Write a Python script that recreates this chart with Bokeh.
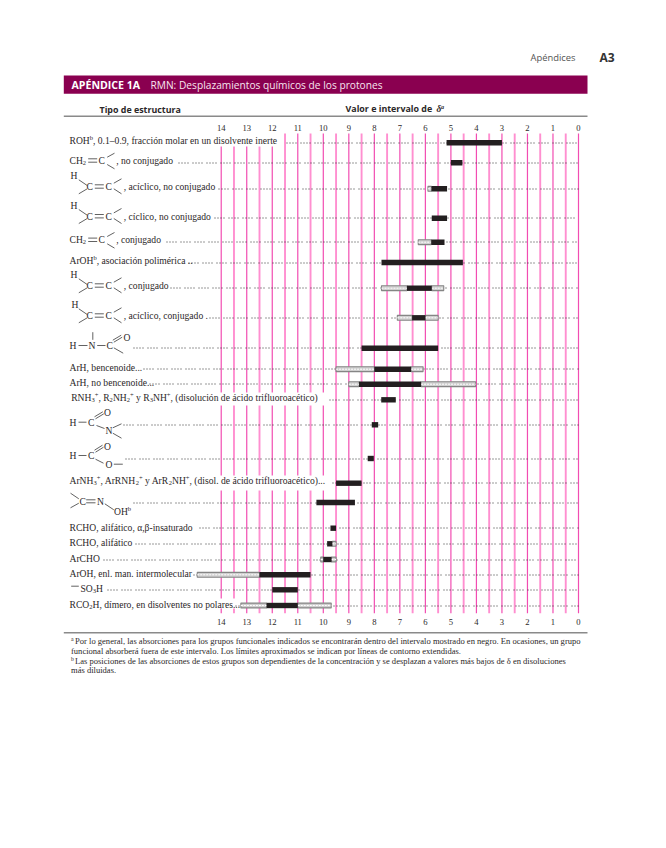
import re
from bokeh.plotting import figure
from bokeh.models import Range1d
from bokeh.core.properties import value
from bokeh.embed import file_html
from bokeh.resources import INLINE

# ---------- data: chemical shift ranges (ppm) ----------
tick_labels = [14, 13, 12, 11, 10, 9, 8, 7, 6, 5, 4, 3, 2, 1, 0]
half_ticks = [13.5, 12.5, 11.5, 10.5, 9.5, 8.5, 7.5, 6.5, 5.5, 4.5, 3.5, 2.5, 1.5, 0.5]

row_names = ["ROH", "CH2 no conj", "alkene aciclico", "alkene ciclico", "CH2 conj", "ArOH pol",
             "alkene conj", "alkene aciclico conj", "NH amide", "ArH benc", "ArH no benc", "RNH3",
             "HCON", "HCOO", "ArNH3", "oxime", "RCHO ab", "RCHO", "ArCHO", "ArOH intra", "SO3H", "RCO2H"]
black_from = [5.17, 5.0, 5.76, 5.75, 5.77, 7.72, 6.72, 6.52, 8.5, 8.0, 8.6, 7.73, 8.1, 8.26, 9.5, 10.27, 9.72, 9.85, 10.0, 12.5, 12.0, 12.22]
black_to   = [3.0, 4.55, 5.15, 5.15, 5.25, 4.53, 5.75, 6.0, 5.5, 6.56, 6.17, 7.16, 7.85, 8.02, 8.5, 8.76, 9.5, 9.65, 9.68, 10.5, 11.0, 11.0]

ext_row  = [2, 4, 6, 6, 7, 7, 9, 9, 10, 10, 17, 18, 18, 19, 21, 21]
ext_from = [5.9, 6.28, 7.72, 5.75, 7.1, 6.0, 9.5, 6.56, 9.0, 6.17, 9.65, 10.1, 9.68, 14.94, 13.23, 11.0]
ext_to   = [5.76, 5.77, 6.72, 5.28, 6.52, 5.5, 8.0, 6.09, 8.6, 4.03, 9.5, 10.0, 9.5, 12.5, 12.22, 9.69]

# ---------- layout (page pixels) ----------
row_y = [142.3, 162.3, 188.3, 217.7, 241.7, 262, 287.7, 317.3, 347.7, 368.7, 383.7, 399.3,
         424.3, 458, 482.7, 502, 527.7, 543.3, 559, 574.3, 589.3, 605]
leader_start = [286, 178, 218, 214, 166, 188, 170, 209, 133, 143, 149, 329,
                123, 125, 332, 133, 199, 135, 103, 193, 107, 235]

X0, SCALE = 578.0, 25.52
W, H = 650, 832

p = figure(width=W, height=H, output_backend="svg", toolbar_location=None,
           x_range=Range1d(X0 / SCALE, (X0 - W) / SCALE),
           y_range=Range1d(H, 0), x_axis_type=None, y_axis_type=None,
           min_border=0, outline_line_color=None, background_fill_color="white",
           border_fill_color="white")
p.grid.visible = False
p.extra_x_ranges = {"page": Range1d(0, W)}

SERIF = "Liberation Serif"
SANS = "Open Sans"
INK = "#2b2728"


def T(x, y, s, size=9.6, font=SERIF, style="normal", color=INK, align="left"):
    p.text(x=[x], y=[y], text=[s], x_range_name="page", text_font=value(font),
           text_font_size=f"{size}px", text_font_style=style, text_color=color,
           text_align=align, text_baseline="middle")


def L(x0, y0, x1, y1, w=0.8, c="#3a3a3a"):
    p.segment(x0=[x0], y0=[y0], x1=[x1], y1=[y1], x_range_name="page", line_width=w, line_color=c)


ADV = dict(zip("abcdefghijklmnopqrstuvwxyz",
               [.444, .5, .444, .5, .444, .333, .5, .5, .278, .278, .5, .278, .778, .5, .5, .5, .5, .333, .389, .278, .5, .5, .722, .5, .5, .444]))
ADV.update({"A": .722, "C": .667, "H": .722, "N": .722, "O": .722, "R": .667, "S": .556,
            ",": .25, ".": .25, " ": .25, "(": .333, ")": .333, "+": .564, "-": .333, "–": .5,
            "á": .444, "é": .444, "í": .278, "ó": .5, "ú": .5, "α": .55, "β": .5})


def width(s, size):
    return sum(ADV.get(c, .5) for c in s) * size


def R(x, y, s, size=9.6):
    """Text with _{sub} and ^{sup} pieces."""
    for part in re.split(r"([_^]\{[^}]*\})", s):
        if not part:
            continue
        if part[0] in "_^" and part[1:2] == "{":
            small = size * 0.68
            T(x, y + (2.6 if part[0] == "_" else -2.6), part[2:-1], small)
            x += width(part[2:-1], small)
        else:
            stripped = part.lstrip(" ")
            x += width(part[:len(part) - len(stripped)], size)
            T(x, y, stripped, size)
            x += width(stripped, size)


# ---------- vertical guide lines ----------
for g in half_ticks:
    p.segment(x0=[g], x1=[g], y0=[133], y1=[612.7], line_color="#ff8fd0", line_width=1.9)
for g in tick_labels:
    p.segment(x0=[g], x1=[g], y0=[133], y1=[612.7], line_color="#f24db2", line_width=1.2)

# label knock-outs over the guide lines
for (x0, x1, y0, y1) in [(214, 282, 130, 146), (214, 328, 392, 405), (214, 329, 475, 490), (214, 236, 598, 608)]:
    p.quad(left=[x0], right=[x1], top=[y0], bottom=[y1], x_range_name="page",
           fill_color="white", line_color=None)

# ---------- leaders ----------
for y, s in zip(row_y, leader_start):
    yy = int(y) + 0.5
    p.segment(x0=[s], x1=[578], y0=[yy], y1=[yy], x_range_name="page", line_color="#333333",
              line_width=1.0, line_dash="1 2 1 2 1 2 1 4")

# ---------- ranges ----------
p.quad(left=ext_from, right=ext_to, top=[row_y[i] - 2.4 for i in ext_row],
       bottom=[row_y[i] + 2.4 for i in ext_row], fill_color="#cfcfcf", line_color="#858585", line_width=1.1)
p.segment(x0=ext_from, x1=ext_to, y0=[row_y[i] for i in ext_row], y1=[row_y[i] for i in ext_row],
          line_color="#ffffff", line_width=1.0, line_dash="2 1")
p.quad(left=black_from, right=black_to, top=[y - 2.7 for y in row_y], bottom=[y + 2.7 for y in row_y],
       fill_color="#231f20", line_color=None)

# ---------- tick labels ----------
for t in tick_labels:
    p.text(x=[t], y=[127.5], text=[str(t)], text_font=value(SERIF), text_font_size="8.6px", text_color=INK,
           text_align="center", text_baseline="middle")
    p.text(x=[t], y=[621.5], text=[str(t)], text_font=value(SERIF), text_font_size="8.6px", text_color=INK,
           text_align="center", text_baseline="middle")

# ---------- header ----------
T(530, 56.5, "Apéndices", 9.4, SANS, color="#555555")
T(599, 56.5, "A3", 12, SANS, "bold", "#333333")
p.quad(left=[63.3], right=[587], top=[75], bottom=[93.3], x_range_name="page", fill_color="#8a0050", line_color=None)
T(71, 84.8, "APÉNDICE 1A", 10.6, SANS, "bold", "white")
T(150, 84.8, "RMN: Desplazamientos químicos de los protones", 10.2, SANS, color="#f7e6ef")
T(99, 109, "Tipo de estructura", 8.9, SANS, "bold")
T(345, 108, "Valor e intervalo de", 8.9, SANS, "bold")
T(436, 108, "δ", 9.4, SERIF, "bold italic")
T(440.5, 106, "a", 6.2, SERIF, "bold italic")
L(63.3, 115.7, 587, 115.7, 1.4, "#8a8a8a")
L(63.3, 632.3, 587, 632.3, 1.4, "#8a8a8a")

# ---------- row labels ----------
R(69, 140, "ROH^{b}, 0.1–0.9, fracción molar en un disolvente inerte")
R(69, 260, "ArOH^{b}, asociación polimérica ..")
R(69, 366.7, "ArH, bencenoide...")
R(69, 381.7, "ArH, no bencenoide...")
R(70.7, 397.3, "RNH_{3}^{+}, R_{2}NH_{2}^{+} y R_{3}NH^{+}, (disolución de ácido trifluoroacético)")
R(69, 480, "ArNH_{3}^{+}, ArRNH_{2}^{+} y ArR_{2}NH^{+}, (disol. de ácido trifluoroacético)...")
R(69, 526.7, "RCHO, alifático, α,β-insaturado")
R(69, 541.7, "RCHO, alifático")
R(69, 557.7, "ArCHO")
R(69, 572.7, "ArOH, enl. man. intermolecular")
R(80, 588.3, "SO_{3}H")
L(70.7, 585.7, 78.3, 585.7)
R(69, 604, "RCO_{2}H, dímero, en disolventes no polares...")


def ch2(y, tail):
    R(69, y, "CH_{2}")
    L(87.7, y - 1.7, 96.7, y - 1.7)
    L(87.7, y + 1.7, 96.7, y + 1.7)
    T(98, y, "C")
    L(106.7, y - 3.3, 114, y - 7.3)
    L(106.7, y + 4, 114, y + 8.3)
    T(115.7, y, tail)


def alkene(y, tail, dx=0):
    T(70 + dx, y - 11, "H")
    L(78.3, y - 6.7, 86.7, y - 1)
    L(78.3, y + 7.3, 86.7, y + 2.3)
    T(86, y, "C")
    L(94.3, y - 1.7, 103.3, y - 1.7)
    L(94.3, y + 1.7, 103.3, y + 1.7)
    T(105, y, "C")
    L(113.3, y - 3.3, 121, y - 7.7)
    L(113.3, y + 2.3, 121, y + 7.3)
    T(123.3, y, tail)


ch2(160, ", no conjugado")
ch2(239.3, ", conjugado")
alkene(186, ", acíclico, no conjugado")
alkene(215.7, ", cíclico, no conjugado")
alkene(285, ", conjugado")
alkene(315, ", acíclico, conjugado .", 1)

# amide N-H
y = 345
T(69, y, "H"); L(78, y, 87, y); T(88, y, "N"); L(92.3, 331.7, 92.3, 339.3); L(96.7, y, 105, y); T(106, y, "C")
L(113.3, y - 3.3, 121.7, y - 8.3); L(112.3, y - 5.3, 120.7, y - 10.3); T(123, 336.7, "O")
L(113.3, y + 2.3, 122.7, y + 7.7)

# formamide
y = 421.7
T(69, y, "H"); L(78, y, 86, y); T(87.6, y, "C")
L(95, y - 3.4, 103.3, y - 8.4); L(94, y - 5.4, 102.3, y - 10.4); T(103.4, 412.3, "O")
L(96, y + 3.3, 104, y + 6.3); T(105, 430, "N")
L(112.3, 427.3, 121, 423.3); L(112.3, 432.7, 121, 437.7)

# formate
y = 455
T(69, y, "H"); L(78, y, 86, y); T(87.4, y, "C")
L(95, y - 3.3, 103, y - 8.3); L(94, y - 5.3, 102, y - 10.3); T(103.4, 445.7, "O")
L(95, y + 3.7, 103, y + 7.7); T(105, 463.7, "O"); L(113.3, 463.7, 122.3, 463.7)

# oxime
L(70, 492.7, 78.3, 498.3); L(70, 507.3, 78.3, 502.7); T(79, 501, "C")
L(85.7, 499.3, 95, 499.3); L(85.7, 502.3, 95, 502.3); T(96.5, 500.7, "N")
L(104.3, 503.3, 113.3, 509.3); R(113.5, 510.7, "OH^{b}")

# ---------- footnotes ----------
notes = ["^{a}Por lo general, las absorciones para los grupos funcionales indicados se encontrarán dentro del intervalo mostrado en negro. En ocasiones, un grupo",
         "funcional absorberá fuera de este intervalo. Los límites aproximados se indican por líneas de contorno extendidas.",
         "^{b}Las posiciones de las absorciones de estos grupos son dependientes de la concentración y se desplazan a valores más bajos de δ en disoluciones",
         "más diluidas."]
for yy, s in zip([640, 650, 660, 669.5], notes):
    m = re.match(r"\^\{(.)\}(.*)", s)
    if m:
        T(70.5, yy - 2, m.group(1), 5.8)
        T(74.5, yy, m.group(2), 8.55)
    else:
        T(70.5, yy, s, 8.55)

open("out.html", "w").write(file_html(p, INLINE))
